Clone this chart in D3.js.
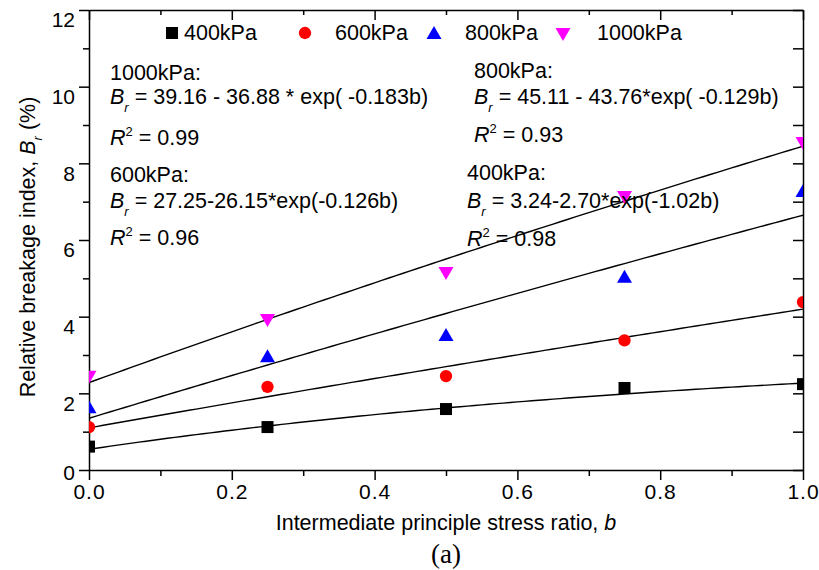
<!DOCTYPE html>
<html>
<head>
<meta charset="utf-8">
<script src="https://cdn.jsdelivr.net/npm/d3@7/dist/d3.min.js"></script>
<style>
  html, body { margin: 0; padding: 0; background: #fff; }
  svg { display: block; font-family: "Liberation Sans", Arial, sans-serif; }
</style>
</head>
<body>
<svg id="chart" width="819" height="570"></svg>
<script>
// Stress ratio b at which breakage was measured
const bValues = [0, 0.25, 0.5, 0.75, 1.0];

// Series names (confining pressure)
const seriesNames = ["400kPa", "600kPa", "800kPa", "1000kPa"];

// Measured relative breakage index Br (%)
const br400 = [0.61, 1.12, 1.59, 2.14, 2.24];
const br600 = [1.12, 2.17, 2.45, 3.38, 4.38];
const br800 = [1.64, 2.97, 3.52, 5.04, 7.28];
const br1000 = [2.43, 3.91, 5.14, 7.12, 8.53];

// Fitted curves Br = a - c * exp(k b)
const fitA = [3.24, 27.25, 45.11, 39.16];
const fitC = [2.70, 26.15, 43.76, 36.88];
const fitK = [-1.02, -0.126, -0.129, -0.183];

// Axis ticks
const xTicks = [0, 0.2, 0.4, 0.6, 0.8, 1.0];
const xMinor = [0.1, 0.3, 0.5, 0.7, 0.9];
const yTicks = [0, 2, 4, 6, 8, 10, 12];
const yMinor = [1, 3, 5, 7, 9, 11];

const seriesValues = [br400, br600, br800, br1000];
const colors = ["#000000", "#ff0000", "#0000ff", "#ff00ff"];
const shapes = ["square", "circle", "triUp", "triDown"];

const svg = d3.select("#chart");
const pLeft = 89, pRight = 803, pTop = 10, pBottom = 470;

const x = d3.scaleLinear().domain([0, 1]).range([pLeft, pRight]);
const y = d3.scaleLinear().domain([0, 12]).range([pBottom, pTop]);

const FONT = 21.5;
const SUB = 13;

// Marker shape paths centred on the origin
function markerPath(shape) {
  if (shape === "square") return "M-6,-6H6V6H-6Z";
  if (shape === "circle") return d3.symbol(d3.symbolCircle, 120)();
  if (shape === "triUp") return "M0,-7L7.5,6H-7.5Z";
  return "M0,7L7.5,-6H-7.5Z";
}

// Plot clip region
svg.append("defs").append("clipPath").attr("id", "plotClip")
  .append("rect").attr("x", pLeft).attr("y", pTop)
  .attr("width", pRight - pLeft).attr("height", pBottom - pTop);

// Bottom and left axes with labels, ticks outward
const gB = svg.append("g").attr("transform", `translate(0,${pBottom})`)
  .call(d3.axisBottom(x).tickValues(xTicks).tickSize(10).tickSizeOuter(0)
    .tickFormat(d3.format(".1f")));
svg.append("g").attr("transform", `translate(0,${pBottom})`)
  .call(d3.axisBottom(x).tickValues(xMinor).tickSize(6).tickFormat(""))
  .call(g => g.select(".domain").remove());

const gL = svg.append("g").attr("transform", `translate(${pLeft},0)`)
  .call(d3.axisLeft(y).tickValues(yTicks).tickSize(10).tickSizeOuter(0)
    .tickFormat(d3.format("d")));
svg.append("g").attr("transform", `translate(${pLeft},0)`)
  .call(d3.axisLeft(y).tickValues(yMinor).tickSize(6).tickFormat(""))
  .call(g => g.select(".domain").remove());

// Top and right axes: ticks pointing inward, no labels
svg.append("g").attr("transform", `translate(0,${pTop})`)
  .call(d3.axisBottom(x).tickValues(xTicks).tickSize(10).tickSizeOuter(0).tickFormat(""));
svg.append("g").attr("transform", `translate(0,${pTop})`)
  .call(d3.axisBottom(x).tickValues(xMinor).tickSize(5).tickFormat(""))
  .call(g => g.select(".domain").remove());
svg.append("g").attr("transform", `translate(${pRight},0)`)
  .call(d3.axisLeft(y).tickValues(yTicks).tickSize(10).tickSizeOuter(0).tickFormat(""));
svg.append("g").attr("transform", `translate(${pRight},0)`)
  .call(d3.axisLeft(y).tickValues(yMinor).tickSize(10).tickFormat(""))
  .call(g => g.select(".domain").remove());

svg.selectAll(".domain, .tick line").attr("stroke", "#000").attr("stroke-width", 1.5);
svg.selectAll(".tick text").attr("font-size", 21).attr("fill", "#000")
  .attr("font-family", "'Liberation Sans', Arial, sans-serif");
gB.selectAll(".tick text").attr("y", 14).attr("dy", "0.71em").attr("letter-spacing", 1);
// y labels sit a little below their ticks; the zero label stays near the axis corner
gL.selectAll(".tick text").attr("x", -14)
  .attr("y", d => d === 0 ? 3 : 10);

// Fitted curves
const plot = svg.append("g").attr("clip-path", "url(#plotClip)");
const bFine = d3.range(0, 1.0001, 0.01);
const line = d3.line().x(d => x(d[0])).y(d => y(d[1]));
seriesNames.forEach((name, i) => {
  const pts = bFine.map(b => [b, fitA[i] - fitC[i] * Math.exp(fitK[i] * b)]);
  plot.append("path").attr("d", line(pts))
    .attr("fill", "none").attr("stroke", "#000").attr("stroke-width", 1.4);
});

// Measured points
seriesNames.forEach((name, i) => {
  plot.append("g").selectAll("path")
    .data(seriesValues[i])
    .join("path")
    .attr("d", markerPath(shapes[i]))
    .attr("transform", (d, j) => `translate(${x(bValues[j])},${y(d)})`)
    .attr("fill", colors[i]);
});

// Legend
const legendX = [172, 305, 434, 563];
const legendTextX = [184, 335, 465, 597];
seriesNames.forEach((name, i) => {
  svg.append("path").attr("d", markerPath(shapes[i]))
    .attr("transform", `translate(${legendX[i]},${shapes[i] === "triDown" ? 34 : 33})`)
    .attr("fill", colors[i]);
  svg.append("text").attr("x", legendTextX[i]).attr("y", 40)
    .attr("font-size", FONT).text(name);
});

// Equation annotations
function eqLine(xp, yp, rest) {
  const t = svg.append("text").attr("x", xp).attr("y", yp).attr("font-size", FONT);
  t.append("tspan").attr("font-style", "italic").text("B");
  t.append("tspan").attr("font-style", "italic").attr("font-size", SUB).attr("dy", 8).text("r");
  t.append("tspan").attr("dy", -8).text(" = " + rest);
}
function r2Line(xp, yp, val) {
  const t = svg.append("text").attr("x", xp).attr("y", yp).attr("font-size", FONT);
  t.append("tspan").attr("font-style", "italic").text("R");
  t.append("tspan").attr("font-size", SUB).attr("dy", -9).text("2");
  t.append("tspan").attr("dy", 9).text(" = " + val);
}
function label(xp, yp, s) {
  svg.append("text").attr("x", xp).attr("y", yp).attr("font-size", FONT).text(s);
}

label(110, 80, "1000kPa:");
eqLine(110, 104, "39.16 - 36.88 * exp( -0.183b)");
r2Line(110, 145, "0.99");
label(110, 182, "600kPa:");
eqLine(110, 208, "27.25-26.15*exp(-0.126b)");
r2Line(110, 245, "0.96");

label(474, 78, "800kPa:");
eqLine(474, 104, "45.11 - 43.76*exp( -0.129b)");
r2Line(474, 142, "0.93");
label(467, 180, "400kPa:");
eqLine(467, 208, "3.24-2.70*exp(-1.02b)");
r2Line(467, 246, "0.98");

// Axis titles
const xt = svg.append("text").attr("x", (pLeft + pRight) / 2).attr("y", 530)
  .attr("text-anchor", "middle").attr("font-size", FONT);
xt.append("tspan").text("Intermediate principle stress ratio, ");
xt.append("tspan").attr("font-style", "italic").text("b");

const yt = svg.append("text")
  .attr("transform", `translate(35,247) rotate(-90)`)
  .attr("text-anchor", "middle").attr("font-size", FONT);
yt.append("tspan").text("Relative breakage index, ");
yt.append("tspan").attr("font-style", "italic").text("B");
yt.append("tspan").attr("font-style", "italic").attr("font-size", SUB).attr("dy", 7).text("r");
yt.append("tspan").attr("dy", -7).text(" (%)");

svg.append("text").attr("x", 446).attr("y", 563).attr("text-anchor", "middle")
  .attr("font-family", "'Liberation Serif', 'Times New Roman', serif")
  .attr("font-size", 27).text("(a)");
</script>
</body>
</html>
